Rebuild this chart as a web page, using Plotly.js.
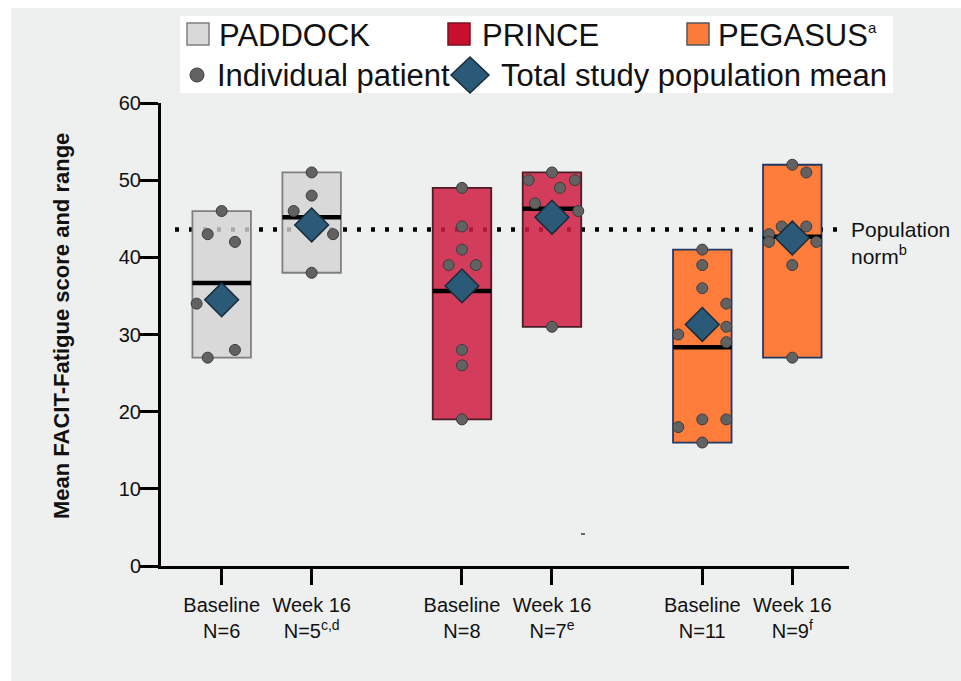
<!DOCTYPE html>
<html><head><meta charset="utf-8">
<script src="https://cdn.plot.ly/plotly-3.0.1.min.js"></script>
<style>html,body{margin:0;padding:0;background:#fff}</style>
</head><body><div id="chart" style="width:961px;height:681px"></div>
<script>
// ---------------- data ----------------
const studies = ["PADDOCK", "PRINCE", "PEGASUS"];
const studySup = ["", "", "a"];
const timepoints = ["Baseline", "Week 16"];
const nFootnotes = ["", "c,d", "", "e", "", "f"];
const paddockBaseline = [46, 43, 42, 34, 27, 28];
const paddockWeek16 = [51, 48, 46, 43, 38];
const princeBaseline = [49, 44, 41, 39, 39, 28, 26, 19];
const princeWeek16 = [51, 50, 50, 49, 47, 46, 31];
const pegasusBaseline = [41, 39, 36, 34, 31, 30, 29, 19, 19, 18, 16];
const pegasusWeek16 = [52, 51, 44, 44, 43, 42, 42, 39, 27];
const populationMeans = [34.5, 44.2, 36.3, 45.2, 31.3, 42.5];
const populationNorm = 43.6;
const legendPatient = "Individual patient";
const legendMean = "Total study population mean";
const normLabel = "Population<br>norm<sup>b</sup>";
const yTitle = "Mean FACIT-Fatigue score and range";

// ---------------- layout helpers (positions / styles) ----------------
const groups = [paddockBaseline, paddockWeek16, princeBaseline, princeWeek16, pegasusBaseline, pegasusWeek16];
const jitter = [
  [0, -0.155, 0.148, -0.278, -0.155, 0.148],
  [0, 0, -0.2, 0.238, 0],
  [0, 0, 0, -0.148, 0.155, 0, 0, 0],
  [0, -0.259, 0.255, 0.089, -0.189, 0.292, 0],
  [0, 0, 0, 0.267, 0.267, -0.267, 0.267, 0, 0.267, -0.267, 0],
  [0, 0.156, -0.118, 0.156, -0.259, -0.259, 0.267, 0, 0]
];
const groupGap = 2.67, barW = 0.65;
const pos = groups.map((g, i) => Math.floor(i / 2) * groupGap + (i % 2));
const fills = ["rgba(211,211,211,0.8)", "rgba(211,211,211,0.8)", "rgba(207,28,66,0.85)", "rgba(207,28,66,0.85)", "#fe7d3b", "#fe7d3b"];
const borders = ["#7f7f7f", "#7f7f7f", "#4a1d28", "#4a1d28", "#1f3864", "#1f3864"];
const legendFill = ["#d9d9d9", "#c8102e", "#fb7b3b"];
const legendBorder = ["#7f7f7f", "#7a1020", "#555555"];
const FONT = "Liberation Sans, Arial, sans-serif";

const mins = groups.map(g => Math.min(...g));
const maxs = groups.map(g => Math.max(...g));
const means = groups.map(g => g.reduce((a, b) => a + b, 0) / g.length);

// pixel -> paper
const L = 161, R = 849, T = 103, B = 566;
const px = x => (x - L) / (R - L);
const py = y => (B - y) / (B - T);

const traces = [];
traces.push({
  type: "bar", x: pos, y: maxs.map((m, i) => m - mins[i]), base: mins, width: barW,
  marker: { color: fills, line: { color: borders, width: 1.8 } },
  hoverinfo: "skip", showlegend: false
});
const mx = [], my = [];
pos.forEach((p, i) => { mx.push(p - barW / 2, p + barW / 2, null); my.push(means[i], means[i], null); });
traces.push({ type: "scatter", mode: "lines", x: mx, y: my, line: { color: "#000", width: 4.5 }, hoverinfo: "skip", showlegend: false });
const ptx = [], pty = [];
groups.forEach((g, i) => g.forEach((v, j) => { ptx.push(pos[i] + jitter[i][j]); pty.push(v); }));
traces.push({ type: "scatter", mode: "markers", x: ptx, y: pty,
  marker: { color: "#626262", size: 11, line: { color: "#3c3c3c", width: 1 } }, hoverinfo: "skip", showlegend: false });
traces.push({ type: "scatter", mode: "markers", x: pos, y: populationMeans,
  marker: { symbol: "diamond", color: "#2b5a78", size: 26, line: { color: "#1a2b3a", width: 1.5 } }, hoverinfo: "skip", showlegend: false });

const ticktext = groups.map((g, i) => timepoints[i % 2] + "<br>N=" + g.length + (nFootnotes[i] ? "<sup>" + nFootnotes[i] + "</sup>" : ""));

const shapes = [
  { type: "line", layer: "below", xref: "paper", yref: "y", x0: px(175), x1: px(845), y0: populationNorm, y1: populationNorm,
    line: { color: "#000", width: 4.5, dash: "4px,10px" } },
  { type: "rect", layer: "above", xref: "paper", yref: "paper", x0: px(0), x1: px(961), y0: py(0), y1: py(8), fillcolor: "#fff", line: { width: 0 } },
  { type: "rect", layer: "above", xref: "paper", yref: "paper", x0: px(0), x1: px(11), y0: py(0), y1: py(681), fillcolor: "#fff", line: { width: 0 } },
  { type: "rect", layer: "above", xref: "paper", yref: "paper", x0: px(180), x1: px(893), y0: py(16), y1: py(93), fillcolor: "#fff", line: { width: 0 } },
  { type: "line", layer: "above", xref: "paper", yref: "paper", x0: px(581), x1: px(585), y0: py(534), y1: py(534), line: { color: "#666", width: 2 } }
];
const sqX = [187, 448, 687];
const txtX = [217, 480, 716];
studies.forEach((s, i) => {
  shapes.push({ type: "rect", layer: "above", xref: "paper", yref: "paper", x0: px(sqX[i]), x1: px(sqX[i] + 22), y0: py(23), y1: py(45),
    fillcolor: legendFill[i], line: { color: legendBorder[i], width: 1.5 } });
});
shapes.push({ type: "circle", layer: "above", xref: "paper", yref: "paper", x0: px(190), x1: px(204), y0: py(68), y1: py(82),
  fillcolor: "#626262", line: { color: "#3c3c3c", width: 1 } });
shapes.push({ type: "path", layer: "above", xref: "paper", yref: "paper",
  path: `M ${px(451)},${py(75)} L ${px(470)},${py(57)} L ${px(489)},${py(75)} L ${px(470)},${py(93)} Z`,
  fillcolor: "#2b5a78", line: { color: "#1a2b3a", width: 1.5 } });

const annotations = studies.map((s, i) => ({
  xref: "paper", yref: "paper", x: px(txtX[i]), y: py(35), xanchor: "left", yanchor: "middle", showarrow: false,
  text: s + (studySup[i] ? "<sup><span style=\"font-size:15px\">" + studySup[i] + "</span></sup>" : ""),
  font: { family: FONT, size: 31, color: "#111" }
}));
annotations.push({ xref: "paper", yref: "paper", x: px(215), y: py(75), xanchor: "left", yanchor: "middle", showarrow: false,
  text: legendPatient, font: { family: FONT, size: 31, color: "#111" } });
annotations.push({ xref: "paper", yref: "paper", x: px(499), y: py(75), xanchor: "left", yanchor: "middle", showarrow: false,
  text: legendMean, font: { family: FONT, size: 31, color: "#111" } });
annotations.push({ xref: "paper", yref: "paper", x: px(61), y: py(326), xanchor: "center", yanchor: "middle", showarrow: false, textangle: -90,
  text: "<b>" + yTitle + "</b>", font: { family: FONT, size: 22, color: "#111" } });
annotations.push({ xref: "paper", yref: "y", x: px(849), y: populationNorm, yshift: -13, xanchor: "left", yanchor: "middle", align: "left", showarrow: false,
  text: normLabel, font: { family: FONT, size: 21, color: "#111" } });

const layout = {
  width: 961, height: 681,
  margin: { l: L, r: 961 - R, t: T, b: 681 - B, pad: 0 },
  paper_bgcolor: "#eef0ef", plot_bgcolor: "rgba(0,0,0,0)",
  font: { family: FONT, color: "#111" },
  barmode: "overlay", showlegend: false,
  xaxis: { range: [-0.674, 6.97], tickmode: "array", tickvals: pos, ticktext: ticktext,
    ticks: "outside", ticklen: 16, tickwidth: 3, tickcolor: "#000", showline: true, linewidth: 3, linecolor: "#000",
    ticklabelstandoff: 3,
    showgrid: false, zeroline: false, tickfont: { family: FONT, size: 20, color: "#111" }, fixedrange: true },
  yaxis: { range: [0, 60], tickmode: "array", tickvals: [0, 10, 20, 30, 40, 50, 60],
    ticks: "outside", ticklen: 19, tickwidth: 3, tickcolor: "#000", showline: true, linewidth: 3, linecolor: "#000",
    ticklabelstandoff: -6,
    showgrid: false, zeroline: false, tickfont: { family: FONT, size: 20, color: "#111" }, fixedrange: true },
  shapes: shapes, annotations: annotations
};
Plotly.newPlot("chart", traces, layout, { displayModeBar: false, staticPlot: true });
</script></body></html>
